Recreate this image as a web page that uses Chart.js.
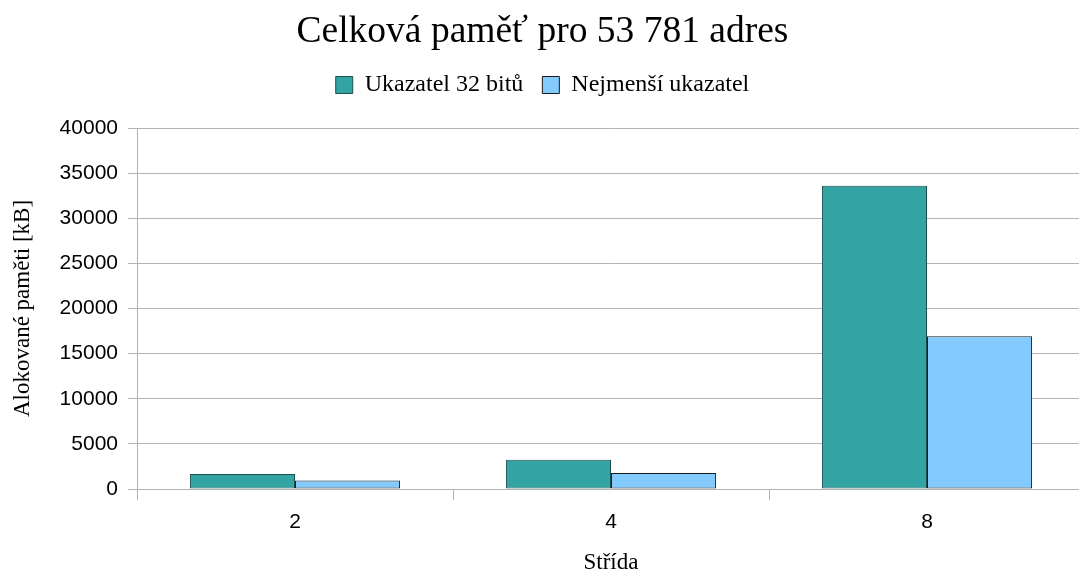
<!DOCTYPE html>
<html>
<head>
<meta charset="utf-8">
<script src="https://cdn.jsdelivr.net/npm/chart.js@4/dist/chart.umd.min.js"></script>
<style>
  html, body { margin: 0; padding: 0; background: #fff; overflow: hidden; }
  #wrap { width: 1090px; height: 575px; }
</style>
</head>
<body>
<div id="wrap"><canvas id="c" width="1090" height="575"></canvas></div>
<script>
// Stride values (x categories)
const strides = ['2', '4', '8'];
// Allocated memory in kB per stride
const pointer32 = [1650, 3240, 33600];
const smallestPointer = [950, 1770, 16920];
// Y axis ticks
const yMin = 0;
const yMax = 40000;
const yStep = 5000;

const serif = '"Liberation Serif", "DejaVu Serif", serif';
const sans = '"Liberation Sans", Arial, sans-serif';

// Empty box between the legend and the plot area to keep some air there
const legendGap = {
  id: 'legendGap',
  beforeInit(chart, args, opts) {
    const box = {
      position: 'top',
      weight: 500,
      fullSize: true,
      options: {},
      left: 0, top: 0, right: 0, bottom: 0, width: 0, height: 0,
      isHorizontal() { return true; },
      update(maxWidth) { this.width = maxWidth; this.height = (opts && opts.size) || 21; },
      draw() {}
    };
    Chart.layouts.addBox(chart, box);
  }
};

new Chart(document.getElementById('c'), {
  type: 'bar',
  plugins: [legendGap],
  data: {
    labels: strides,
    datasets: [
      {
        label: 'Ukazatel 32 bitů',
        data: pointer32,
        backgroundColor: '#33a3a3',
        borderColor: '#1e4f4f',
        borderWidth: 1,
        borderSkipped: false,
        categoryPercentage: 0.665,
        barPercentage: 1.0
      },
      {
        label: 'Nejmenší ukazatel',
        data: smallestPointer,
        backgroundColor: '#83caff',
        borderColor: '#1a1a1a',
        borderWidth: 1,
        borderSkipped: false,
        categoryPercentage: 0.665,
        barPercentage: 1.0
      }
    ]
  },
  options: {
    responsive: false,
    animation: false,
    layout: { padding: { left: 0, right: 5, top: 0, bottom: 0 } },
    plugins: {
      legendGap: { size: 21 },
      title: {
        display: true,
        text: 'Celková paměť pro 53 781 adres',
        color: '#000',
        font: { family: serif, size: 37.5, weight: 'normal' },
        padding: { top: 9.5, bottom: -0.5 }
      },
      legend: {
        display: true,
        position: 'top',
        labels: {
          color: '#000',
          font: { family: serif, size: 24 },
          boxWidth: 17,
          boxHeight: 17,
          padding: 19
        }
      },
      tooltip: { enabled: false }
    },
    scales: {
      x: {
        offset: true,
        afterFit(scale) { scale.height = 86; },
        grid: {
          offset: true,
          drawOnChartArea: false,
          drawTicks: true,
          tickLength: 11,
          color: '#b3b3b3'
        },
        border: { display: true, color: '#b3b3b3' },
        ticks: {
          color: '#000',
          font: { family: sans, size: 21 },
          padding: 10
        },
        title: {
          display: true,
          text: 'Střída',
          color: '#000',
          font: { family: serif, size: 23 },
          padding: { top: 0, bottom: -2 }
        }
      },
      y: {
        min: yMin,
        max: yMax,
        afterFit(scale) { scale.width = 137; },
        ticks: {
          stepSize: yStep,
          color: '#000',
          font: { family: sans, size: 21 },
          padding: 10,
          callback: (v) => String(v)
        },
        grid: {
          color: '#b3b3b3',
          tickLength: 9,
          drawTicks: true
        },
        border: { display: true, color: '#b3b3b3' },
        title: {
          display: true,
          text: 'Alokované paměti [kB]',
          color: '#000',
          font: { family: serif, size: 23 },
          padding: { top: 9, bottom: 0 }
        }
      }
    }
  }
});
</script>
</body>
</html>
